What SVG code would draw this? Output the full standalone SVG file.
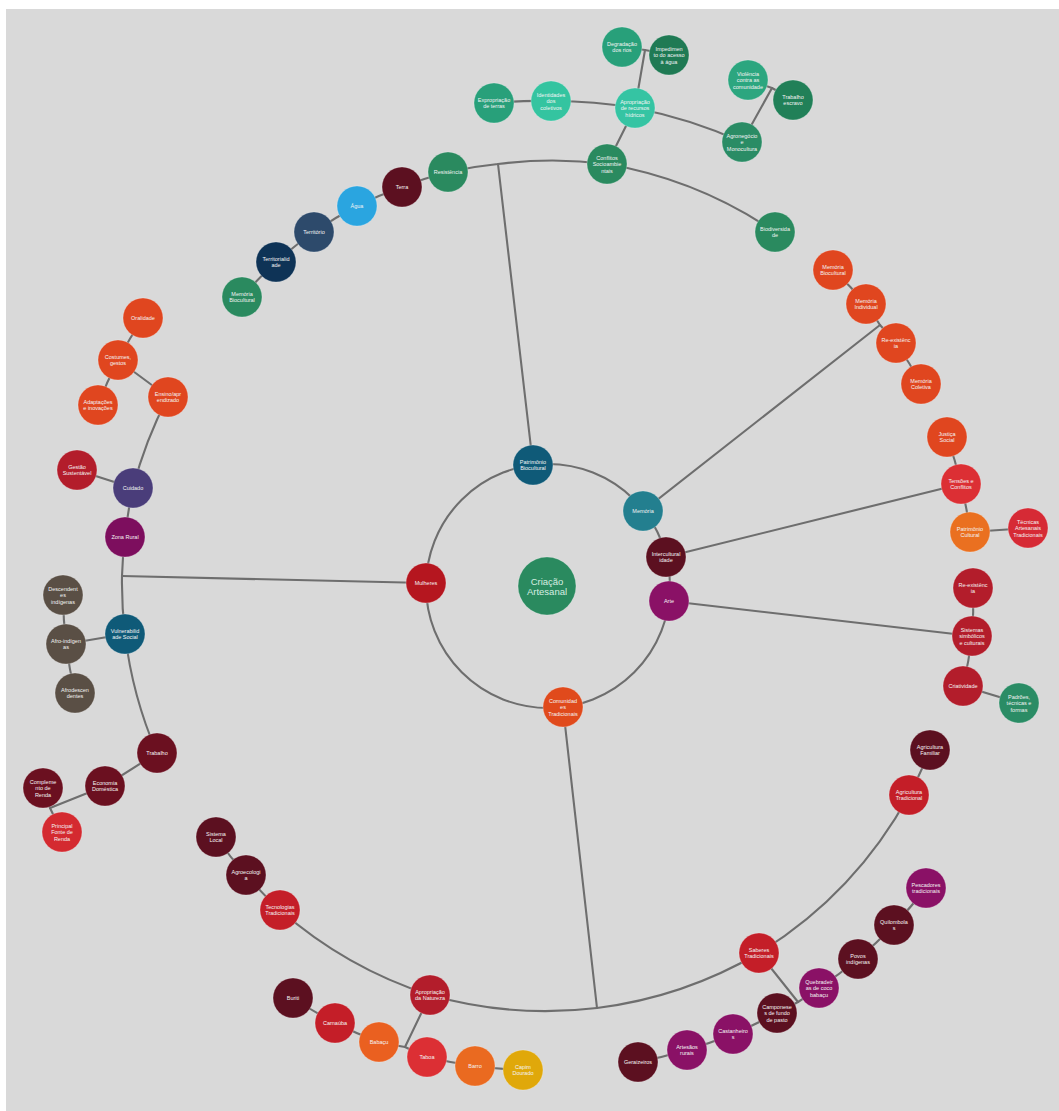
<svg xmlns="http://www.w3.org/2000/svg" width="1059" height="1111" viewBox="0 0 1059 1111">
<style>
.c{fill:none;stroke:#6e6e6e;stroke-width:2.1;stroke-linecap:round}
.n circle{stroke:#ffffff;stroke-opacity:0.25;stroke-width:1}
.n text{font-family:"Liberation Sans",Arial,sans-serif;font-size:5.5px;fill:#f4f4f4;text-anchor:middle}
#criacao text{font-size:9.5px;fill:#d6eee2}
</style>
<rect x="0" y="0" width="1059" height="1111" fill="#ffffff"/>
<rect x="6" y="9" width="1053" height="1102" fill="#d9d9d9"/>
<g id="connectors">
<circle class="c" cx="548" cy="586" r="122"/>
<line class="c" x1="533" y1="465" x2="498" y2="164"/>
<line class="c" x1="643" y1="511" x2="880" y2="325"/>
<line class="c" x1="666" y1="557" x2="961" y2="484"/>
<line class="c" x1="669" y1="601" x2="972" y2="636"/>
<line class="c" x1="563" y1="707" x2="597" y2="1008"/>
<line class="c" x1="426" y1="583" x2="122" y2="576"/>
<path class="c" d="M242,297 A425,425 0 0,1 276,262 A425,425 0 0,1 314,232 A425,425 0 0,1 357,206 A425,425 0 0,1 402,187 A425,425 0 0,1 448,172 A425,425 0 0,1 498,164 A425,425 0 0,1 607,164 A425,425 0 0,1 775,232"/>
<path class="c" d="M833,270 A425,425 0 0,1 866,304 A425,425 0 0,1 880,325 A425,425 0 0,1 896,343 A425,425 0 0,1 921,384"/>
<path class="c" d="M947,437 A425,425 0 0,1 961,484 A425,425 0 0,1 970,532"/>
<line class="c" x1="970" y1="532" x2="1028" y2="528"/>
<path class="c" d="M973,588 A425,425 0 0,1 972,636 A425,425 0 0,1 963,686"/>
<line class="c" x1="963" y1="686" x2="1019" y2="703"/>
<path class="c" d="M930,750 A425,425 0 0,1 909,795 A425,425 0 0,1 759,953 A425,425 0 0,1 597,1008 A425,425 0 0,1 430,995 A425,425 0 0,1 280,910 A425,425 0 0,1 246,875 A425,425 0 0,1 216,837"/>
<path class="c" d="M157,753 A425,425 0 0,1 125,634 A425,425 0 0,1 122,576 A425,425 0 0,1 125,537 A425,425 0 0,1 133,488 A425,425 0 0,1 168,397"/>
<path class="c" d="M494,103 A485,485 0 0,1 551,101 A485,485 0 0,1 635,108 A485,485 0 0,1 742,142"/>
<line class="c" x1="635" y1="108" x2="607" y2="164"/>
<line class="c" x1="635" y1="108" x2="645" y2="50"/>
<path class="c" d="M622,47 A545,545 0 0,1 645,50 A545,545 0 0,1 669,55"/>
<line class="c" x1="742" y1="142" x2="772" y2="88"/>
<path class="c" d="M748,80 A545,545 0 0,1 772,88 A545,545 0 0,1 793,100"/>
<path class="c" d="M143,318 A485,485 0 0,0 118,360 A485,485 0 0,0 98,405"/>
<line class="c" x1="118" y1="360" x2="168" y2="397"/>
<line class="c" x1="133" y1="488" x2="77" y2="470"/>
<line class="c" x1="125" y1="634" x2="66" y2="644"/>
<path class="c" d="M63,595 A485,485 0 0,0 66,644 A485,485 0 0,0 75,693"/>
<line class="c" x1="157" y1="753" x2="105" y2="786"/>
<line class="c" x1="105" y1="786" x2="50" y2="808"/>
<path class="c" d="M43,788 A545,545 0 0,0 50,808 A545,545 0 0,0 62,832"/>
<line class="c" x1="430" y1="995" x2="405" y2="1047"/>
<path class="c" d="M293,998 A485,485 0 0,0 335,1023 A485,485 0 0,0 379,1042 A485,485 0 0,0 405,1047 A485,485 0 0,0 427,1057 A485,485 0 0,0 475,1066 A485,485 0 0,0 523,1070"/>
<line class="c" x1="759" y1="953" x2="798" y2="1002"/>
<path class="c" d="M638,1062 A485,485 0 0,0 687,1050 A485,485 0 0,0 733,1034 A485,485 0 0,0 777,1013 A485,485 0 0,0 798,1002 A485,485 0 0,0 819,988 A485,485 0 0,0 858,959 A485,485 0 0,0 894,925 A485,485 0 0,0 926,888"/>
</g>
<g id="criacao" class="n"><circle cx="547" cy="586" r="29" fill="#2a8a5f"/><text><tspan x="547" y="584.5">Criação</tspan><tspan x="547" y="595">Artesanal</tspan></text></g>
<g id="patrimonio-biocultural" class="n"><circle cx="533" cy="465" r="20" fill="#0f5a78"/><text><tspan x="533" y="463.75">Patrimônio</tspan><tspan x="533" y="470.25">Biocultural</tspan></text></g>
<g id="memoria" class="n"><circle cx="643" cy="511" r="20" fill="#237f8f"/><text x="643" y="513">Memória</text></g>
<g id="interculturalidade" class="n"><circle cx="666" cy="557" r="20" fill="#5c1020"/><text><tspan x="666" y="555.75">Intercultural</tspan><tspan x="666" y="562.25">idade</tspan></text></g>
<g id="arte" class="n"><circle cx="669" cy="601" r="20" fill="#8a1166"/><text x="669" y="603">Arte</text></g>
<g id="comunidades" class="n"><circle cx="563" cy="707" r="20" fill="#e04a1c"/><text><tspan x="563" y="702.5">Comunidad</tspan><tspan x="563" y="709">es</tspan><tspan x="563" y="715.5">Tradicionais</tspan></text></g>
<g id="mulheres" class="n"><circle cx="426" cy="583" r="20" fill="#b5161f"/><text x="426" y="585">Mulheres</text></g>
<g id="resistencia" class="n"><circle cx="448" cy="172" r="20" fill="#2a8a5f"/><text x="448" y="174">Resistência</text></g>
<g id="terra" class="n"><circle cx="402" cy="187" r="20" fill="#5c1020"/><text x="402" y="189">Terra</text></g>
<g id="agua" class="n"><circle cx="357" cy="206" r="20" fill="#2aa5e0"/><text x="357" y="208">Água</text></g>
<g id="territorio" class="n"><circle cx="314" cy="232" r="20" fill="#2d4a6b"/><text x="314" y="234">Território</text></g>
<g id="territorialidade" class="n"><circle cx="276" cy="262" r="20" fill="#0e3356"/><text><tspan x="276" y="260.75">Territorialid</tspan><tspan x="276" y="267.25">ade</tspan></text></g>
<g id="memoria-biocultural-top" class="n"><circle cx="242" cy="297" r="20" fill="#2a8a5f"/><text><tspan x="242" y="295.75">Memória</tspan><tspan x="242" y="302.25">Biocultural</tspan></text></g>
<g id="conflitos" class="n"><circle cx="607" cy="164" r="20" fill="#2a8a5f"/><text><tspan x="607" y="159.5">Conflitos</tspan><tspan x="607" y="166">Socioambie</tspan><tspan x="607" y="172.5">ntais</tspan></text></g>
<g id="biodiversidade" class="n"><circle cx="775" cy="232" r="20" fill="#2a8a5f"/><text><tspan x="775" y="230.75">Biodiversida</tspan><tspan x="775" y="237.25">de</tspan></text></g>
<g id="apropriacao-hidricos" class="n"><circle cx="635" cy="108" r="20" fill="#35c4a3"/><text><tspan x="635" y="103.5">Apropriação</tspan><tspan x="635" y="110">de recursos</tspan><tspan x="635" y="116.5">hídricos</tspan></text></g>
<g id="identidades" class="n"><circle cx="551" cy="101" r="20" fill="#34c4a0"/><text><tspan x="551" y="96.5">Identidades</tspan><tspan x="551" y="103">dos</tspan><tspan x="551" y="109.5">coletivos</tspan></text></g>
<g id="expropriacao" class="n"><circle cx="494" cy="103" r="20" fill="#28a07a"/><text><tspan x="494" y="101.75">Expropriação</tspan><tspan x="494" y="108.25">de terras</tspan></text></g>
<g id="degradacao" class="n"><circle cx="622" cy="47" r="20" fill="#28a07a"/><text><tspan x="622" y="45.75">Degradação</tspan><tspan x="622" y="52.25">dos rios</tspan></text></g>
<g id="impedimento" class="n"><circle cx="669" cy="55" r="20" fill="#1f7a54"/><text><tspan x="669" y="50.5">Impedimen</tspan><tspan x="669" y="57">to do acesso</tspan><tspan x="669" y="63.5">à água</tspan></text></g>
<g id="agronegocio" class="n"><circle cx="742" cy="142" r="20" fill="#2a8c65"/><text><tspan x="742" y="137.5">Agronegócio</tspan><tspan x="742" y="144">e</tspan><tspan x="742" y="150.5">Monocultura</tspan></text></g>
<g id="violencia" class="n"><circle cx="748" cy="80" r="20" fill="#2ca67f"/><text><tspan x="748" y="75.5">Violência</tspan><tspan x="748" y="82">contra as</tspan><tspan x="748" y="88.5">comunidade</tspan></text></g>
<g id="trabalho-escravo" class="n"><circle cx="793" cy="100" r="20" fill="#218058"/><text><tspan x="793" y="98.75">Trabalho</tspan><tspan x="793" y="105.25">escravo</tspan></text></g>
<g id="memoria-biocultural-right" class="n"><circle cx="833" cy="270" r="20" fill="#e0461f"/><text><tspan x="833" y="268.75">Memória</tspan><tspan x="833" y="275.25">Biocultural</tspan></text></g>
<g id="memoria-individual" class="n"><circle cx="866" cy="304" r="20" fill="#e0461f"/><text><tspan x="866" y="302.75">Memória</tspan><tspan x="866" y="309.25">Individual</tspan></text></g>
<g id="reexistencia-1" class="n"><circle cx="896" cy="343" r="20" fill="#e0461f"/><text><tspan x="896" y="341.75">Re-existênc</tspan><tspan x="896" y="348.25">ia</tspan></text></g>
<g id="memoria-coletiva" class="n"><circle cx="921" cy="384" r="20" fill="#e0461f"/><text><tspan x="921" y="382.75">Memória</tspan><tspan x="921" y="389.25">Coletiva</tspan></text></g>
<g id="justica" class="n"><circle cx="947" cy="437" r="20" fill="#e0461f"/><text><tspan x="947" y="435.75">Justiça</tspan><tspan x="947" y="442.25">Social</tspan></text></g>
<g id="tensoes" class="n"><circle cx="961" cy="484" r="20" fill="#dc2f34"/><text><tspan x="961" y="482.75">Tensões e</tspan><tspan x="961" y="489.25">Conflitos</tspan></text></g>
<g id="patrimonio-cultural" class="n"><circle cx="970" cy="532" r="20" fill="#ea7020"/><text><tspan x="970" y="530.75">Patrimônio</tspan><tspan x="970" y="537.25">Cultural</tspan></text></g>
<g id="tecnicas" class="n"><circle cx="1028" cy="528" r="20" fill="#d62a35"/><text><tspan x="1028" y="523.5">Técnicas</tspan><tspan x="1028" y="530">Artesanais</tspan><tspan x="1028" y="536.5">Tradicionais</tspan></text></g>
<g id="reexistencia-2" class="n"><circle cx="973" cy="588" r="20" fill="#b31d2b"/><text><tspan x="973" y="586.75">Re-existênc</tspan><tspan x="973" y="593.25">ia</tspan></text></g>
<g id="sistemas" class="n"><circle cx="972" cy="636" r="20" fill="#b31d2b"/><text><tspan x="972" y="631.5">Sistemas</tspan><tspan x="972" y="638">simbólicos</tspan><tspan x="972" y="644.5">e culturais</tspan></text></g>
<g id="criatividade" class="n"><circle cx="963" cy="686" r="20" fill="#b31d2b"/><text x="963" y="688">Criatividade</text></g>
<g id="padroes" class="n"><circle cx="1019" cy="703" r="20" fill="#2a8c65"/><text><tspan x="1019" y="698.5">Padrões,</tspan><tspan x="1019" y="705">técnicas e</tspan><tspan x="1019" y="711.5">formas</tspan></text></g>
<g id="oralidade" class="n"><circle cx="143" cy="318" r="20" fill="#e0461f"/><text x="143" y="320">Oralidade</text></g>
<g id="costumes" class="n"><circle cx="118" cy="360" r="20" fill="#e0461f"/><text><tspan x="118" y="358.75">Costumes,</tspan><tspan x="118" y="365.25">gestos</tspan></text></g>
<g id="adaptacoes" class="n"><circle cx="98" cy="405" r="20" fill="#e0461f"/><text><tspan x="98" y="403.75">Adaptações</tspan><tspan x="98" y="410.25">e inovações</tspan></text></g>
<g id="ensino" class="n"><circle cx="168" cy="397" r="20" fill="#e0461f"/><text><tspan x="168" y="395.75">Ensino/apr</tspan><tspan x="168" y="402.25">endizado</tspan></text></g>
<g id="gestao" class="n"><circle cx="77" cy="470" r="20" fill="#b31d2b"/><text><tspan x="77" y="468.75">Gestão</tspan><tspan x="77" y="475.25">Sustentável</tspan></text></g>
<g id="cuidado" class="n"><circle cx="133" cy="488" r="20" fill="#4a3d7a"/><text x="133" y="490">Cuidado</text></g>
<g id="zona-rural" class="n"><circle cx="125" cy="537" r="20" fill="#7d0e5e"/><text x="125" y="539">Zona Rural</text></g>
<g id="vulnerabilidade" class="n"><circle cx="125" cy="634" r="20" fill="#0f5a78"/><text><tspan x="125" y="632.75">Vulnerabilid</tspan><tspan x="125" y="639.25">ade Social</tspan></text></g>
<g id="descendentes" class="n"><circle cx="63" cy="595" r="20" fill="#5a4f45"/><text><tspan x="63" y="590.5">Descendent</tspan><tspan x="63" y="597">es</tspan><tspan x="63" y="603.5">indígenas</tspan></text></g>
<g id="afro-indigenas" class="n"><circle cx="66" cy="644" r="20" fill="#5a4f45"/><text><tspan x="66" y="642.75">Afro-indígen</tspan><tspan x="66" y="649.25">as</tspan></text></g>
<g id="afrodescendentes" class="n"><circle cx="75" cy="693" r="20" fill="#5a4f45"/><text><tspan x="75" y="691.75">Afrodescen</tspan><tspan x="75" y="698.25">dentes</tspan></text></g>
<g id="trabalho" class="n"><circle cx="157" cy="753" r="20" fill="#6b1020"/><text x="157" y="755">Trabalho</text></g>
<g id="economia" class="n"><circle cx="105" cy="786" r="20" fill="#6b1020"/><text><tspan x="105" y="784.75">Economia</tspan><tspan x="105" y="791.25">Doméstica</tspan></text></g>
<g id="complemento" class="n"><circle cx="43" cy="788" r="20" fill="#6b1020"/><text><tspan x="43" y="783.5">Compleme</tspan><tspan x="43" y="790">nto de</tspan><tspan x="43" y="796.5">Renda</tspan></text></g>
<g id="principal" class="n"><circle cx="62" cy="832" r="20" fill="#d42a30"/><text><tspan x="62" y="827.5">Principal</tspan><tspan x="62" y="834">Fonte de</tspan><tspan x="62" y="840.5">Renda</tspan></text></g>
<g id="sistema-local" class="n"><circle cx="216" cy="837" r="20" fill="#5c1020"/><text><tspan x="216" y="835.75">Sistema</tspan><tspan x="216" y="842.25">Local</tspan></text></g>
<g id="agroecologia" class="n"><circle cx="246" cy="875" r="20" fill="#5c1020"/><text><tspan x="246" y="873.75">Agroecologi</tspan><tspan x="246" y="880.25">a</tspan></text></g>
<g id="tecnologias" class="n"><circle cx="280" cy="910" r="20" fill="#c41e28"/><text><tspan x="280" y="908.75">Tecnologias</tspan><tspan x="280" y="915.25">Tradicionais</tspan></text></g>
<g id="apropriacao-natureza" class="n"><circle cx="430" cy="995" r="20" fill="#b31d2b"/><text><tspan x="430" y="993.75">Apropriação</tspan><tspan x="430" y="1000.25">da Natureza</tspan></text></g>
<g id="buriti" class="n"><circle cx="293" cy="998" r="20" fill="#5c1020"/><text x="293" y="1000">Buriti</text></g>
<g id="carnauba" class="n"><circle cx="335" cy="1023" r="20" fill="#c41e28"/><text x="335" y="1025">Carnaúba</text></g>
<g id="babacu" class="n"><circle cx="379" cy="1042" r="20" fill="#ea6020"/><text x="379" y="1044">Babaçu</text></g>
<g id="taboa" class="n"><circle cx="427" cy="1057" r="20" fill="#dc2f34"/><text x="427" y="1059">Taboa</text></g>
<g id="barro" class="n"><circle cx="475" cy="1066" r="20" fill="#ea6a20"/><text x="475" y="1068">Barro</text></g>
<g id="capim" class="n"><circle cx="523" cy="1070" r="20" fill="#e0a80a"/><text><tspan x="523" y="1068.75">Capim</tspan><tspan x="523" y="1075.25">Dourado</tspan></text></g>
<g id="agricultura-familiar" class="n"><circle cx="930" cy="750" r="20" fill="#5c1020"/><text><tspan x="930" y="748.75">Agricultura</tspan><tspan x="930" y="755.25">Familiar</tspan></text></g>
<g id="agricultura-tradicional" class="n"><circle cx="909" cy="795" r="20" fill="#c41e28"/><text><tspan x="909" y="793.75">Agricultura</tspan><tspan x="909" y="800.25">Tradicional</tspan></text></g>
<g id="saberes" class="n"><circle cx="759" cy="953" r="20" fill="#c41e28"/><text><tspan x="759" y="951.75">Saberes</tspan><tspan x="759" y="958.25">Tradicionais</tspan></text></g>
<g id="pescadores" class="n"><circle cx="926" cy="888" r="20" fill="#8a1166"/><text><tspan x="926" y="886.75">Pescadores</tspan><tspan x="926" y="893.25">tradicionais</tspan></text></g>
<g id="quilombolas" class="n"><circle cx="894" cy="925" r="20" fill="#5c1020"/><text><tspan x="894" y="923.75">Quilombola</tspan><tspan x="894" y="930.25">s</tspan></text></g>
<g id="povos" class="n"><circle cx="858" cy="959" r="20" fill="#5c1020"/><text><tspan x="858" y="957.75">Povos</tspan><tspan x="858" y="964.25">indígenas</tspan></text></g>
<g id="quebradeiras" class="n"><circle cx="819" cy="988" r="20" fill="#8a1166"/><text><tspan x="819" y="983.5">Quebradeir</tspan><tspan x="819" y="990">as de coco</tspan><tspan x="819" y="996.5">babaçu</tspan></text></g>
<g id="camponeses" class="n"><circle cx="777" cy="1013" r="20" fill="#5c1020"/><text><tspan x="777" y="1008.5">Camponese</tspan><tspan x="777" y="1015">s de fundo</tspan><tspan x="777" y="1021.5">de pasto</tspan></text></g>
<g id="castanheiros" class="n"><circle cx="733" cy="1034" r="20" fill="#8a1166"/><text><tspan x="733" y="1032.75">Castanheiro</tspan><tspan x="733" y="1039.25">s</tspan></text></g>
<g id="artesaos" class="n"><circle cx="687" cy="1050" r="20" fill="#8a1166"/><text><tspan x="687" y="1048.75">Artesãos</tspan><tspan x="687" y="1055.25">rurais</tspan></text></g>
<g id="geraizeiros" class="n"><circle cx="638" cy="1062" r="20" fill="#5c1020"/><text x="638" y="1064">Geraizeiros</text></g>
</svg>
